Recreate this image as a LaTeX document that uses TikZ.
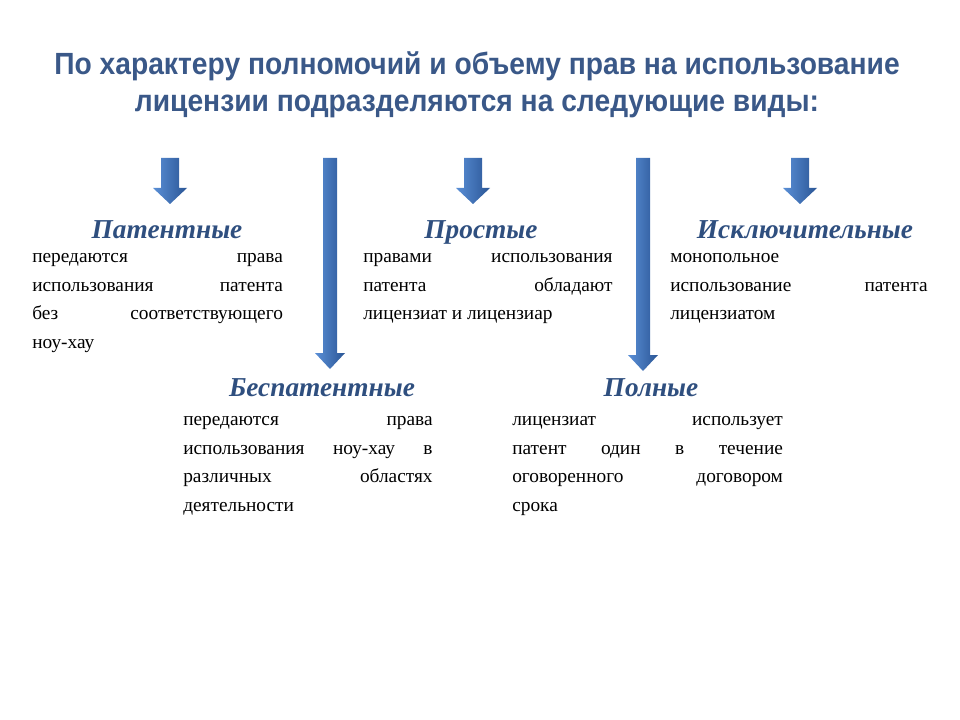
\documentclass[tikz,border=0pt]{standalone}
\usepackage{fontspec}
\setmainfont{Liberation Serif}
\newfontfamily\titlefont[FakeStretch=0.92]{Liberation Sans}
\usetikzlibrary{positioning}
\definecolor{titleblue}{HTML}{3A5888}
\definecolor{headblue}{HTML}{2F4F7F}
\definecolor{arrowlight}{HTML}{5A8FD6}
\definecolor{arrowdark}{HTML}{2A5595}
\newcommand{\blockarrow}[4]{% x, top, bottom, shaft half width
  \shade[left color=arrowlight, right color=arrowdark, draw=none]
    (#1-#4,#2) -- (#1+#4,#2) -- (#1+#4,#3-16) -- (#1+#4+8,#3-16) --
    (#1,#3) -- (#1-#4-8,#3-16) -- (#1-#4,#3-16) -- cycle;}
\begin{document}
\begin{tikzpicture}
  [
    x=0.75pt, y=-0.75pt,
    heading/.style={
      font=\fontsize{20.5}{24}\selectfont\bfseries\itshape,
      text=headblue, inner sep=0pt, anchor=base
    },
    body/.style={
      font=\fontsize{14.5}{21.5}\selectfont,
      align=justify, inner sep=0pt, anchor=north west
    }
  ]
\useasboundingbox (0,0) rectangle (960,720);
% Title
\node (title) [font=\titlefont\fontsize{23}{28}\selectfont\bfseries,
  text=titleblue, align=center, inner sep=0pt] at (477,85)
  {По характеру полномочий и объему прав на использование\\
   лицензии подразделяются на следующие виды:};
% Arrows
\blockarrow{170}{158}{204}{9}
\blockarrow{473}{158}{204}{9}
\blockarrow{800}{158}{204}{9}
\blockarrow{330}{158}{369}{7}
\blockarrow{643}{158}{371}{7}
% Top row
\node (patent) [heading] at (167,239) {Патентные};
\node (patenttext) [body, text width=188pt] at (32,253)
  {передаются права\linebreak использования патента\linebreak без соответствующего\linebreak ноу-хау};
\node (simple) [heading] at (481,239) {Простые};
\node (simpletext) [body, text width=187pt] at (363,253)
  {правами использования\linebreak патента обладают\linebreak лицензиат и лицензиар};
\node (exclusive) [heading] at (805,239) {Исключительные};
\node (exclusivetext) [body, text width=193pt] at (670,253)
  {монопольное\linebreak использование патента\linebreak лицензиатом};
% Bottom row
\node (nopatent) [heading] at (322,396) {Беспатентные};
\node (nopatenttext) [body, text width=187pt] at (183,416)
  {передаются права\linebreak использования ноу-хау в\linebreak различных областях\linebreak деятельности};
\node (full) [heading] at (651,396) {Полные};
\node (fulltext) [body, text width=203pt] at (512,416)
  {лицензиат использует\linebreak патент один в течение\linebreak оговоренного договором\linebreak срока};
\end{tikzpicture}
\end{document}
